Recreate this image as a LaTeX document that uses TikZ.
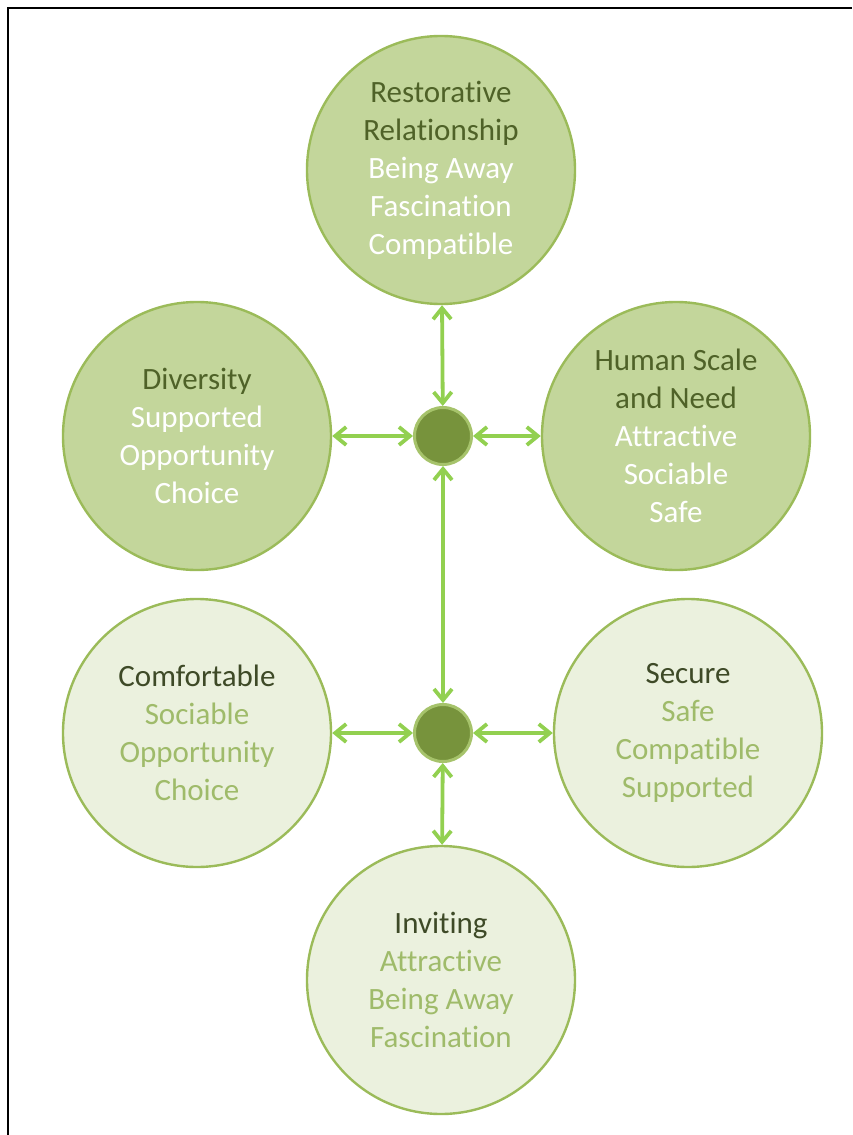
\documentclass[tikz,border=0pt]{standalone}
\usepackage{fontspec}
\setmainfont[Ligatures=NoCommon]{Carlito}
\usetikzlibrary{arrows.meta}
\definecolor{olivefill}{HTML}{C3D69B}
\definecolor{palefill}{HTML}{EBF1DE}
\definecolor{oliveedge}{HTML}{9BBB59}
\definecolor{hubfill}{HTML}{77933C}
\definecolor{hubedge}{HTML}{A6C36B}
\definecolor{linkgreen}{HTML}{92D050}
\definecolor{headdark}{HTML}{4F6228}
\definecolor{headgrey}{HTML}{3E4A27}
\definecolor{itempale}{HTML}{9FBB6A}
\newcommand{\uphead}[1]{\textcolor{headdark}{#1}}
\newcommand{\lowhead}[1]{\textcolor{headgrey}{#1}}
\begin{document}
\begin{tikzpicture}[x=0.5pt, y=-0.5pt,
  big/.style={circle, draw=oliveedge, line width=1.2pt, minimum size=134pt,
    inner sep=0pt, align=center, font=\fontsize{15.5}{19}\selectfont},
  upper/.style={big, fill=olivefill, text=white},
  lower/.style={big, fill=palefill, text=itempale},
  hub/.style={circle, fill=hubfill, draw=hubedge, line width=1.5pt,
    minimum size=28.5pt, inner sep=0pt},
  link/.style={draw=linkgreen, line width=1.9pt,
    {Straight Barb[length=5.5pt,width=9pt]}-{Straight Barb[length=5.5pt,width=9pt]}}]
\useasboundingbox (0,0) rectangle (852,1135);

% frame
\draw[line width=1.4pt] (8,1135) -- (8,8) -- (852,8);

% the two hubs
\node[hub] (hubup) at (443,436) {};
\node[hub] (hublow) at (443,733) {};

% upper group
\node[upper] (restore) at (441,170)
  {\uphead{Restorative}\\\uphead{Relationship}\\Being Away\\Fascination\\Compatible};
\node[upper] (diversity) at (197,436)
  {\uphead{Diversity}\\Supported\\Opportunity\\Choice};
\node[upper] (human) at (676,436)
  {\uphead{Human Scale}\\\uphead{and Need}\\Attractive\\Sociable\\Safe};

% lower group
\node[lower] (comfort) at (197,733)
  {\lowhead{Comfortable}\\Sociable\\Opportunity\\Choice};
\node[lower] (secure) at (688,733)
  {\lowhead{Secure}\\Safe\\Compatible\\Supported};
\node[lower] (inviting) at (441,980)
  {\lowhead{Inviting}\\Attractive\\Being Away\\Fascination};

% links
\draw[link] (restore) -- (hubup);
\draw[link] (diversity) -- (hubup);
\draw[link] (hubup) -- (human);
\draw[link] (hubup) -- (hublow);
\draw[link] (comfort) -- (hublow);
\draw[link] (hublow) -- (secure);
\draw[link] (hublow) -- (inviting);

\end{tikzpicture}
\end{document}
